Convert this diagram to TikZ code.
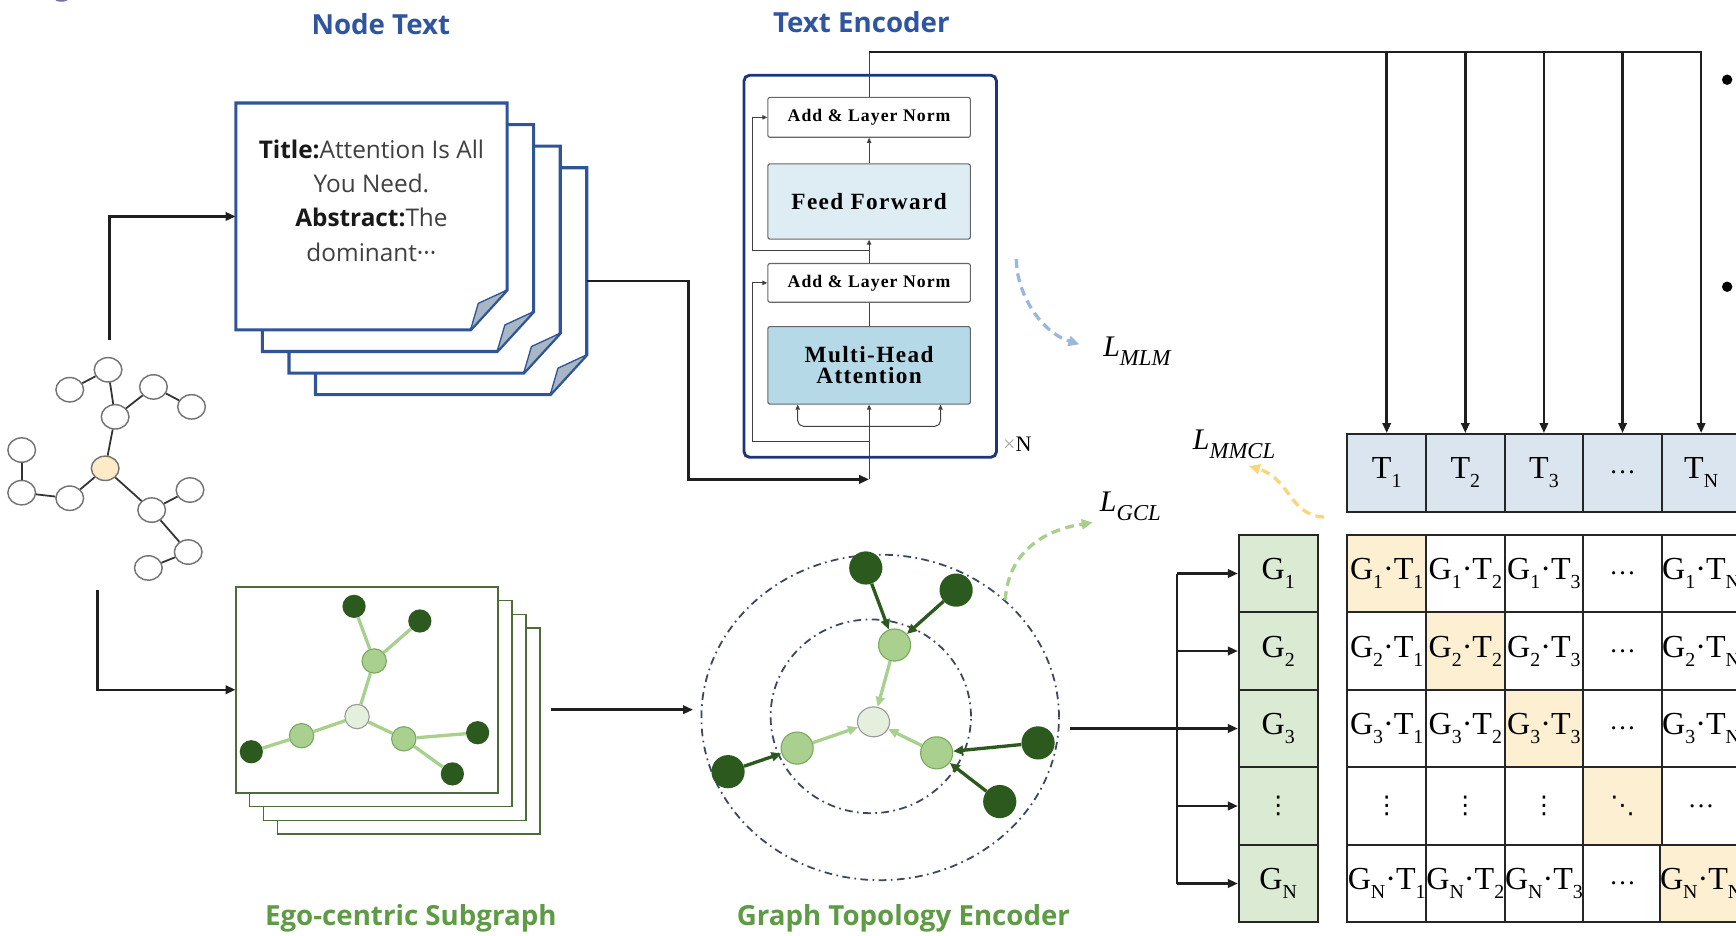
\documentclass[tikz,border=0pt]{standalone}
\usepackage{fontspec}
\usepackage{graphicx}
\usetikzlibrary{arrows.meta,shapes.geometric,calc}
\setmainfont{Liberation Serif}
\newfontfamily\headsans{Open Sans}
\newfontfamily\encserif{Liberation Serif}[LetterSpace=6]
\newfontfamily\dvs{DejaVu Sans}

\definecolor{headblue}{HTML}{2F55A0}
\definecolor{headgreen}{HTML}{5E9B45}
\definecolor{docblue}{HTML}{2F5597}
\definecolor{foldfill}{HTML}{A8B6C6}
\definecolor{navy}{HTML}{1F3380}
\definecolor{fffill}{HTML}{DDEDF3}
\definecolor{mhafill}{HTML}{B5D9E6}
\definecolor{tfill}{HTML}{DAE5F0}
\definecolor{gfill}{HTML}{DAEAD3}
\definecolor{yfill}{HTML}{FDF0D2}
\definecolor{dkgreen}{HTML}{2C5A1E}
\definecolor{ltgreen}{HTML}{A9D08E}
\definecolor{ltgreenrim}{HTML}{7BA85F}
\definecolor{pale}{HTML}{E4EFDD}
\definecolor{edgegreen}{HTML}{A9D18E}
\definecolor{sheetgreen}{HTML}{4E6B3A}
\definecolor{peach}{HTML}{FCEBC6}
\definecolor{ringcol}{HTML}{3B4660}
\definecolor{dashblue}{HTML}{9DB7DB}
\definecolor{dashgreen}{HTML}{A8D08D}
\definecolor{dashyellow}{HTML}{F8D679}
\definecolor{markpurple}{HTML}{7A6AB2}
\definecolor{doctextgray}{HTML}{404040}

\newcommand\setfs[2]{\fontsize{#1}{#2}\selectfont}
\newcommand\lowsub[1]{\raisebox{-0.28em}{\scalebox{0.62}{#1}}}
\newcommand\losssub[1]{\raisebox{-0.3em}{\scalebox{0.76}{\itshape #1}}}
\newcommand\docsheet[2]{%
  \begin{scope}[shift={(#1,#2)}]
    \draw[docline] (0,0) -- (245,0) -- (245,169) -- (212,205) -- (0,205) -- cycle;
    \draw[docfold] (212,205) -- (245,169) -- (219,181) -- cycle;
  \end{scope}}
\newcommand\mcell[5]{\node[cell,fill=#4] (#1) at ({1181.5+71*#2},{448+70*#3}) {#5};}

\begin{document}
\begin{tikzpicture}[x=1pt,y=-1pt,
  conn/.style={line width=2.2pt,draw=black!88},
  tip/.style={-{Triangle[length=9pt,width=7.5pt]}},
  encline/.style={line width=0.9pt,draw=black!75},
  smalltip/.style={-{Triangle[length=4.5pt,width=4pt]}},
  heading/.style={font=\headsans\bfseries\setfs{25}{30},anchor=base},
  docline/.style={draw=docblue,line width=2.8pt,line join=miter,fill=white},
  docfold/.style={draw=docblue,line width=1.2pt,fill=foldfill,line join=round},
  gnode/.style={ellipse,draw=black!55,line width=1.3pt,fill=white,minimum width=25,minimum height=22,inner sep=0},
  gedge/.style={line width=1.6pt,draw=black!80},
  sheet/.style={draw=sheetgreen,line width=1.5pt,fill=white},
  dnode/.style={circle,fill=dkgreen,minimum size=21,inner sep=0},
  lnode/.style={circle,fill=ltgreen,draw=ltgreenrim,line width=1pt,minimum size=22,inner sep=0},
  cnode/.style={circle,fill=pale,draw=black!40,line width=1pt,minimum size=22,inner sep=0},
  sedge/.style={draw=edgegreen,line width=3pt},
  ring/.style={ellipse,draw=ringcol,line width=1.6pt,dash pattern=on 7pt off 4pt on 1.5pt off 4pt,inner sep=0},
  darkarrow/.style={draw=dkgreen,line width=3pt,-{Triangle[length=9pt,width=8pt]}},
  lightarrow/.style={draw=edgegreen,line width=3pt,-{Triangle[length=9pt,width=8pt]}},
  ebox/.style={draw=black!60,line width=1pt,rounded corners=2pt,minimum width=183,inner sep=0},
  cell/.style={draw=black!85,line width=1.8pt,minimum width=71,minimum height=70,inner sep=0,font=\setfs{29}{30}},
  tcell/.style={cell,fill=tfill},
  gcell/.style={cell,fill=gfill},
  lossdash/.style={line width=3pt,dash pattern=on 8pt off 5pt,-{Triangle[length=10pt,width=9pt]}},
  losslabel/.style={anchor=base west,font=\setfs{27}{30}\itshape}
]
\useasboundingbox (0,0) rectangle (1568,845);
\clip (0,0) rectangle (1568,845);

% clipped glyph at the top-left corner
\fill[markpurple] (55.5,-0.5) ellipse (6 and 2);

% ---------- headings ----------
\node[heading,text=headblue] (hnode) at (344,31) {Node Text};
\node[heading,text=headblue] (henc) at (778,29) {Text Encoder};
\node[heading,text=headgreen] (hsub) at (371,836) {Ego-centric Subgraph};
\node[heading,text=headgreen] (htop) at (816,836) {Graph Topology Encoder};

% ---------- input graph ----------
\foreach \n/\px/\py in {g1/97.6/334, g2/63/352, g3/138.6/349.5, g4/173/367.5,
    g5/104/376.5, g6/19.6/406.5, g8/19.6/445, g9/63/450, g10/171.6/442.6,
    g11/137/460.7, g12/170/498.6, g13/134/513}
  \node[gnode] (\n) at (\px,\py) {};
\node[gnode,fill=peach] (g7) at (95,423) {};
\foreach \a/\b in {g1/g2, g1/g5, g5/g3, g3/g4, g5/g7, g7/g9, g9/g8, g8/g6,
    g7/g11, g11/g10, g11/g12, g12/g13}
  \draw[gedge] (\a) -- (\b);

% ---------- node text documents ----------
\docsheet{285}{151.5}
\docsheet{261}{132}
\docsheet{237}{112.5}
\docsheet{213}{93}
\node[inner sep=0,minimum width=245,minimum height=205] (doc1) at (335.5,195.5) {};
\node[inner sep=0,minimum width=245,minimum height=205] (doc4) at (407.5,254) {};
\node[align=center,font=\headsans\setfs{22}{31},text=doctextgray] (doctxt) at (335.5,181)
  {{\bfseries\color{black!90}Title:}Attention Is All\\You Need.\\{\bfseries\color{black!90}Abstract:}The\\dominant···};

% ---------- ego-centric subgraph sheets ----------
\draw[sheet] (250.5,567.5) rectangle (487.5,753.5);
\draw[sheet] (238,555) rectangle (475,741);
\draw[sheet] (225.5,542.5) rectangle (462.5,728.5);
\draw[sheet] (213,530) rectangle (450,716);
\node[inner sep=0,minimum width=237,minimum height=186] (sub1) at (331.5,623) {};
\node[dnode] (sa) at (319.8,547.7) {};
\node[dnode] (sb) at (379.2,560.9) {};
\node[lnode] (sc) at (338,597) {};
\node[cnode] (sd) at (322.5,647.2) {};
\node[lnode] (se) at (272.4,664.5) {};
\node[dnode] (sf) at (227,679) {};
\node[lnode] (sg) at (364.7,667.3) {};
\node[dnode] (sh) at (431.4,661.8) {};
\node[dnode] (si) at (408.6,699) {};
\begin{scope}[on background layer/.style={}]
\foreach \a/\b in {sa/sc, sb/sc, sc/sd, sd/se, se/sf, sd/sg, sg/sh, sg/si}
  \draw[sedge] (\a) -- (\b);
\end{scope}

% graph to documents and to subgraphs
\coordinate (gup) at (99,307);
\coordinate (gdown) at (88,533);
\draw[conn,tip] (gup) |- (doc1.west);
\draw[conn,tip] (gdown) |- (sub1.west);

% ---------- text encoder ----------
\node[draw=navy,line width=2.6pt,rounded corners=5pt,minimum width=228,minimum height=345,inner sep=0] (enc) at (786,240.5) {};
\node[ebox,minimum height=36,fill=white,font=\encserif\bfseries\setfs{16}{18}] (an1) at (785,106) {Add \& Layer Norm};
\node[ebox,minimum height=68,fill=fffill,font=\encserif\bfseries\setfs{21}{22}] (ff) at (785,182) {Feed Forward};
\node[ebox,minimum height=35,fill=white,font=\encserif\bfseries\setfs{16}{18}] (an2) at (785,255.5) {Add \& Layer Norm};
\node[ebox,minimum height=70,fill=mhafill,align=center,font=\encserif\bfseries\setfs{21}{19}] (mha) at (785,330) {Multi-Head\\Attention};
\node[font=\setfs{20}{22}] (times) at (919,401) {\textcolor{black!35}{×}N};

\coordinate (encin) at (785,433);
\coordinate (brk) at (785,385);
\coordinate (res1) at (785,399);
\coordinate (res2) at (785,226);
\coordinate (busT) at (785,47);

\draw[encline,smalltip] (encin) -- (mha.south);
\draw[encline,{Triangle[length=4.5pt,width=4pt]}-{Triangle[length=4.5pt,width=4pt]},rounded corners=5pt]
  ([xshift=27.5pt]mha.south west) |- (brk) -| ([xshift=-27.5pt]mha.south east);
\draw[encline] (mha.north) -- (an2.south);
\draw[encline,smalltip] (an2.north) -- (ff.south);
\draw[encline,smalltip] (ff.north) -- (an1.south);
\draw[encline,smalltip] (res1) -| ($(an2.west)+(-13,0)$) -- (an2.west);
\draw[encline,smalltip] (res2) -| ($(an1.west)+(-13,0)$) -- (an1.west);
\draw[encline] (an1.north) -- (busT);

% documents into the encoder
\draw[conn,tip] (doc4.east) -- (622,254) |- (encin);

% ---------- text embeddings ----------
\node[tcell] (T1) at (1252.5,427) {T\lowsub{1}};
\node[tcell] (T2) at (1323.5,427) {T\lowsub{2}};
\node[tcell] (T3) at (1394.5,427) {T\lowsub{3}};
\node[tcell,font=\setfs{24}{26}] (T4) at (1465.5,427) {…};
\node[tcell] (T5) at (1536.5,427) {T\lowsub{N}};

\draw[conn,tip] (busT) -| (T5.north);
\foreach \t in {T1,T2,T3,T4}
  \draw[conn,tip] (\t.north |- busT) -- (\t.north);

% ---------- graph topology encoder ----------
\node[ring,minimum width=323,minimum height=294] (ringout) at (795,648) {};
\node[ring,minimum width=181,minimum height=175] (ringin) at (786.5,647) {};
\node[dnode,minimum size=30] (ea) at (782,513) {};
\node[dnode,minimum size=30] (eb) at (863.6,533) {};
\node[lnode,minimum size=29] (ec) at (808,582.6) {};
\node[cnode,ellipse,minimum width=29,minimum height=27] (ed) at (789,652) {};
\node[lnode,minimum size=29] (ee) at (720,675.7) {};
\node[lnode,minimum size=29] (ef) at (846,680) {};
\node[dnode,minimum size=30] (eg) at (937.6,671) {};
\node[dnode,minimum size=30] (eh) at (903,724) {};
\node[dnode,minimum size=30] (ei) at (657.6,697) {};
\foreach \a/\b in {ea/ec, eb/ec, eg/ef, eh/ef, ei/ee}
  \draw[darkarrow] (\a) -- (\b);
\foreach \a/\b in {ec/ed, ee/ed, ef/ed}
  \draw[lightarrow] (\a) -- (\b);

\coordinate (subout) at (498,641);
\coordinate (gencin) at (626,641);
\draw[conn,tip] (subout) -- (gencin);

% ---------- graph embeddings ----------
\node[gcell] (G1) at (1154.5,518) {G\lowsub{1}};
\node[gcell] (G2) at (1154.5,588) {G\lowsub{2}};
\node[gcell] (G3) at (1154.5,658) {G\lowsub{3}};
\node[gcell,font=\dvs\setfs{22}{24}] (G4) at (1154.5,728) {⋮};
\node[gcell] (G5) at (1154.5,798) {G\lowsub{N}};

\coordinate (gencout) at (966,658);
\coordinate (busG) at (1063,658);
\draw[conn] (gencout) -- (busG);
\draw[conn] (G1.west -| busG) -- (G5.west -| busG);
\foreach \g in {G1,G2,G3,G4,G5}
  \draw[conn,tip] (\g.west -| busG) -- (\g.west);

% ---------- similarity matrix ----------
\mcell{m11}{1}{1}{yfill}{G\lowsub{1}·T\lowsub{1}}
\mcell{m12}{2}{1}{white}{G\lowsub{1}·T\lowsub{2}}
\mcell{m13}{3}{1}{white}{G\lowsub{1}·T\lowsub{3}}
\mcell{m14}{4}{1}{white}{\setfs{24}{26}…}
\mcell{m15}{5}{1}{white}{G\lowsub{1}·T\lowsub{N}}
\mcell{m21}{1}{2}{white}{G\lowsub{2}·T\lowsub{1}}
\mcell{m22}{2}{2}{yfill}{G\lowsub{2}·T\lowsub{2}}
\mcell{m23}{3}{2}{white}{G\lowsub{2}·T\lowsub{3}}
\mcell{m24}{4}{2}{white}{\setfs{24}{26}…}
\mcell{m25}{5}{2}{white}{G\lowsub{2}·T\lowsub{N}}
\mcell{m31}{1}{3}{white}{G\lowsub{3}·T\lowsub{1}}
\mcell{m32}{2}{3}{white}{G\lowsub{3}·T\lowsub{2}}
\mcell{m33}{3}{3}{yfill}{G\lowsub{3}·T\lowsub{3}}
\mcell{m34}{4}{3}{white}{\setfs{24}{26}…}
\mcell{m35}{5}{3}{white}{G\lowsub{3}·T\lowsub{N}}
\mcell{m41}{1}{4}{white}{\dvs\setfs{22}{24}⋮}
\mcell{m42}{2}{4}{white}{\dvs\setfs{22}{24}⋮}
\mcell{m43}{3}{4}{white}{\dvs\setfs{22}{24}⋮}
\mcell{m44}{4}{4}{yfill}{\dvs\setfs{22}{24}⋱}
\mcell{m45}{5}{4}{white}{\setfs{24}{26}…}
\mcell{m51}{1}{5}{white}{G\lowsub{N}·T\lowsub{1}}
\mcell{m52}{2}{5}{white}{G\lowsub{N}·T\lowsub{2}}
\mcell{m53}{3}{5}{white}{G\lowsub{N}·T\lowsub{3}}
\mcell{m54}{4}{5}{white}{\setfs{24}{26}…}
\mcell{m55}{5}{5}{yfill}{G\lowsub{N}·T\lowsub{N}}

% ---------- losses ----------
\node[losslabel] (lmlm) at (993,322) {L\losssub{MLM}};
\node[losslabel] (lgcl) at (990,462) {L\losssub{GCL}};
\node[losslabel] (lmmcl) at (1074,406) {L\losssub{MMCL}};

\coordinate (mlmS) at (918,234);
\coordinate (mlmE) at (975,311);
\draw[lossdash,draw=dashblue] (mlmS) .. controls (918,265) and (940,300) .. (mlmE);
\coordinate (gclS) at (908,542);
\coordinate (gclE) at (987,472);
\draw[lossdash,draw=dashgreen] (gclS) .. controls (910,505) and (935,480) .. (gclE);
\coordinate (mmclS) at (1196,467);
\coordinate (mmclE) at (1128,421);
\draw[lossdash,draw=dashyellow] (mmclS) .. controls (1165,466) and (1165,432) .. (mmclE);

% list bullets at the right edge
\fill (1560,72) circle (4.7);
\fill (1560,259) circle (4.7);
\end{tikzpicture}
\end{document}
